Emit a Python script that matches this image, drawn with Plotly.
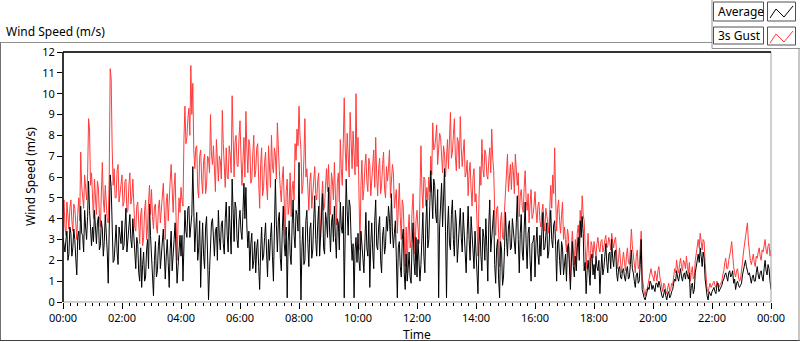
import pandas as pd
import plotly.graph_objects as go

# ---- data ----
# samples on the even 4-minute marks (00:00, 00:04, ...), one row per hour
gust_even = [
    4.4, 3.6, 4.8, 3.5, 4.9, 3.4, 4.5, 3.0, 5.0, 7.2, 5.2, 6.1, 4.9, 8.8, 5.6,
    4.6, 5.9, 4.2, 5.5, 3.6, 6.7, 4.3, 4.8, 3.8, 11.2, 7.4, 6.4, 5.0, 6.6, 5.2,
    6.1, 4.8, 5.9, 4.4, 6.2, 5.0, 4.3, 3.4, 4.8, 2.8, 4.5, 3.1, 4.9, 3.6, 5.6,
    5.4, 3.5, 4.7, 3.3, 4.9, 4.4, 5.7, 3.0, 5.2, 4.6, 6.6, 4.3, 6.2, 2.0, 5.0,
    5.5, 4.6, 9.4, 7.9, 9.3, 11.35, 10.5, 6.4, 7.5, 5.0, 7.3, 5.2, 7.1, 5.6, 6.9,
    9.0, 6.6, 6.2, 7.8, 5.8, 6.8, 9.2, 6.3, 7.4, 5.9, 7.1, 9.9, 6.0, 8.0, 6.5,
    8.7, 5.6, 7.9, 9.15, 6.2, 7.5, 5.9, 8.0, 6.3, 7.6, 4.5, 7.4, 5.5, 7.2, 4.9,
    6.4, 8.0, 6.2, 7.0, 8.6, 6.3, 4.8, 6.5, 3.2, 5.9, 4.6, 4.1, 5.8, 7.6, 8.3,
    9.4, 7.3, 5.6, 8.8, 6.4, 4.4, 6.2, 5.1, 6.5, 4.9, 6.2, 3.1, 5.8, 4.6, 6.4,
    6.6, 4.2, 5.8, 6.7, 3.7, 6.2, 7.8, 5.6, 9.8, 6.3, 7.2, 9.1, 6.4, 7.0, 10.0,
    7.9, 2.5, 6.8, 5.4, 7.1, 5.3, 6.6, 5.8, 7.3, 7.9, 5.1, 6.9, 5.6, 7.2, 5.0,
    5.8, 7.3, 5.6, 6.2, 5.0, 3.3, 5.7, 3.0, 4.6, 1.7, 1.4, 4.2, 3.0, 5.2, 2.3,
    4.4, 2.8, 7.5, 4.5, 5.9, 5.5, 6.0, 7.0, 8.6, 7.4, 8.5, 7.3, 7.9, 6.2, 7.1,
    7.0, 6.4, 9.1, 7.2, 8.8, 6.3, 7.7, 8.9, 6.5, 7.8, 6.2, 5.1, 6.7, 4.6, 6.4,
    5.2, 2.2, 6.5, 7.8, 6.0, 7.1, 5.9, 7.4, 8.3, 6.3, 3.2, 4.6, 1.7, 4.3, 3.0,
    5.5, 7.1, 6.0, 5.4, 6.3, 7.1, 5.6, 4.1, 5.4, 4.3, 6.3, 4.4, 3.8, 5.4, 4.2,
    5.3, 3.8, 4.8, 3.6, 4.7, 3.4, 4.2, 3.3, 5.6, 6.1, 7.4, 3.4, 4.9, 3.3, 4.8,
    3.6, 2.4, 3.2, 1.0, 3.4, 1.8, 2.0, 3.7, 4.4, 5.1, 3.9, 1.6, 3.3, 1.4, 2.7,
    2.9, 2.2, 3.1, 2.4, 3.0, 2.6, 3.2, 2.7, 2.9, 3.3, 2.6, 3.1, 1.6, 2.6, 1.4,
    2.4, 1.5, 2.6, 1.8, 3.5, 2.2, 1.4, 2.5, 1.7, 3.4, 0.7, 0.3, 0.6, 1.2, 1.6,
    1.2, 1.5, 1.0, 1.7, 0.9, 0.5, 0.8, 0.4, 0.9, 0.6, 0.8, 1.6, 2.0, 1.4, 2.1,
    1.5, 1.9, 2.2, 1.4, 1.0, 1.7, 1.2, 2.4, 3.0, 3.3, 2.5, 2.9, 0.9, 0.5, 0.9,
    0.8, 1.0, 0.7, 0.9, 0.8, 1.0, 1.5, 2.1, 1.6, 2.2, 2.9, 1.7, 1.2, 1.6, 1.0,
    1.4, 2.4, 3.1, 3.8, 2.2, 1.8, 2.3, 1.7, 2.1, 2.6, 2.0, 2.4, 3.0, 2.3, 2.8,
    2.5,
]

# samples on the odd 2-minute marks (00:02, 00:06, ...)
gust_odd = [
    4.9, 3.2, 4.1, 4.5, 3.9, 4.7, 3.8, 4.2, 3.9, 5.6, 4.5, 5.4, 6.0, 8.3, 6.2,
    4.0, 4.9, 5.8, 4.1, 5.2, 4.9, 5.6, 3.9, 6.0, 10.7, 5.6, 5.0, 6.3, 4.8, 5.8,
    4.6, 5.8, 4.3, 5.6, 4.7, 5.9, 3.6, 4.6, 3.3, 4.2, 2.7, 4.4, 3.0, 4.8, 4.2,
    4.1, 4.6, 3.6, 4.5, 3.8, 5.2, 4.4, 4.8, 3.9, 5.8, 4.9, 5.5, 4.0, 3.8, 4.3,
    4.9, 7.8, 7.6, 8.8, 8.0, 9.0, 7.3, 7.4, 5.4, 7.0, 5.9, 6.8, 5.2, 7.0, 6.2,
    7.1, 7.5, 5.3, 6.4, 7.0, 5.9, 7.6, 5.5, 6.0, 7.5, 6.2, 7.3, 7.7, 6.6, 7.9,
    7.0, 6.8, 6.0, 7.3, 7.8, 5.7, 7.1, 6.0, 7.4, 5.8, 6.6, 5.1, 6.7, 5.6, 7.5,
    5.5, 6.5, 7.4, 5.9, 7.0, 5.4, 5.9, 4.7, 5.3, 4.2, 6.2, 5.4, 4.9, 6.8, 7.5,
    8.0, 5.2, 6.9, 6.0, 5.5, 5.8, 4.5, 6.0, 5.2, 5.8, 4.4, 4.9, 4.4, 5.6, 5.3,
    5.3, 6.2, 4.9, 5.2, 5.7, 4.8, 6.4, 7.6, 7.3, 8.1, 6.0, 7.0, 8.2, 6.1, 6.5,
    5.2, 5.6, 4.9, 6.5, 5.8, 6.9, 5.1, 6.7, 5.5, 6.1, 6.4, 5.2, 6.6, 5.4, 6.5,
    6.4, 5.0, 6.6, 4.5, 5.4, 4.8, 4.1, 4.9, 3.2, 3.6, 3.4, 2.6, 4.4, 3.6, 3.9,
    3.6, 5.1, 5.4, 6.0, 4.6, 4.9, 5.3, 6.1, 7.3, 7.9, 6.6, 8.1, 7.0, 7.5, 6.0,
    7.8, 7.6, 6.9, 8.0, 7.0, 7.9, 6.4, 7.4, 7.2, 6.0, 6.8, 6.2, 5.4, 6.0, 4.8,
    3.9, 4.8, 5.6, 6.4, 7.3, 6.1, 6.8, 6.2, 6.9, 4.4, 4.5, 3.3, 3.9, 3.1, 4.4,
    6.4, 5.3, 6.6, 6.7, 5.2, 5.9, 6.2, 5.1, 4.6, 5.5, 4.9, 5.2, 4.7, 4.0, 4.6,
    4.4, 4.6, 3.9, 4.3, 3.9, 4.5, 3.8, 4.6, 4.5, 5.2, 5.0, 4.5, 3.9, 4.2, 3.0,
    3.0, 3.5, 2.1, 2.6, 2.5, 3.0, 3.3, 2.8, 3.6, 4.2, 2.7, 2.5, 2.2, 2.9, 2.1,
    2.5, 2.8, 2.6, 2.9, 2.4, 3.0, 2.6, 3.1, 2.5, 2.9, 3.0, 2.3, 2.1, 1.9, 2.0,
    1.9, 2.2, 1.9, 2.5, 2.7, 1.8, 2.2, 1.6, 2.6, 1.2, 0.5, 0.6, 0.9, 1.5, 1.3,
    1.0, 1.3, 1.5, 1.2, 0.6, 0.9, 0.5, 0.7, 0.5, 0.9, 1.2, 1.4, 1.6, 1.8, 1.7,
    2.0, 1.6, 1.7, 1.9, 1.4, 1.1, 2.0, 2.8, 2.6, 2.9, 3.0, 1.9, 0.6, 0.8, 0.7,
    0.9, 0.8, 1.0, 0.7, 0.9, 1.3, 1.9, 1.6, 2.0, 2.5, 2.2, 1.4, 1.5, 1.2, 1.1,
    1.9, 2.8, 3.4, 2.9, 2.0, 2.2, 1.9, 2.2, 2.4, 2.2, 2.5, 2.7, 2.5, 2.7, 2.2,
]

average_even = [
    3.1, 2.4, 3.4, 2.3, 3.3, 2.6, 3.0, 1.3, 3.4, 4.6, 3.2, 4.4, 3.0, 5.8, 3.5,
    3.6, 4.4, 2.8, 4.1, 2.7, 3.5, 2.9, 3.4, 0.9, 6.1, 3.2, 2.0, 3.7, 1.8, 3.1,
    3.9, 2.7, 4.5, 3.0, 4.2, 2.6, 3.2, 1.6, 2.8, 1.0, 0.7, 2.4, 1.2, 3.0, 4.7,
    2.3, 0.3, 2.9, 1.5, 3.2, 2.2, 3.5, 1.1, 3.0, 0.7, 3.4, 2.1, 3.8, 0.9, 2.6,
    2.2, 1.0, 4.4, 3.1, 4.6, 3.5, 6.5, 2.4, 4.3, 2.6, 0.7, 3.8, 1.6, 4.1, 0.1,
    2.8, 4.0, 2.2, 3.6, 4.4, 2.5, 3.9, 2.3, 4.8, 2.4, 3.6, 5.9, 2.9, 4.5, 2.6,
    4.4, 3.0, 5.7, 5.5, 2.6, 1.5, 3.3, 2.0, 1.4, 3.0, 0.6, 3.6, 2.2, 3.8, 1.2,
    2.0, 3.8, 1.0, 5.9, 2.4, 4.3, 1.5, 4.6, 2.2, 0.2, 3.9, 1.8, 4.9, 2.6, 4.2,
    6.7, 0.1, 3.6, 2.0, 4.4, 1.7, 3.8, 2.5, 5.1, 2.2, 4.6, 3.0, 5.2, 2.3, 3.9,
    5.5, 2.4, 4.2, 4.6, 2.1, 3.8, 4.8, 3.3, 0.2, 5.9, 3.2, 4.6, 2.0, 0.2, 3.1,
    3.3, 1.5, 2.9, 1.4, 4.3, 2.2, 0.7, 3.8, 1.6, 4.9, 2.5, 4.1, 1.4, 3.6, 2.7,
    3.4, 4.0, 5.2, 2.6, 3.9, 0.2, 2.9, 1.2, 3.5, 0.6, 1.0, 2.4, 0.9, 3.8, 1.3,
    1.2, 2.1, 1.8, 4.3, 1.4, 4.9, 3.0, 6.3, 4.0, 5.6, 3.8, 0.2, 4.5, 3.6, 6.4,
    0.2, 4.6, 2.5, 4.9, 2.2, 3.8, 2.9, 4.5, 2.4, 3.5, 1.4, 4.6, 2.0, 3.1, 1.6,
    2.2, 0.4, 3.6, 1.5, 3.1, 4.0, 1.0, 4.9, 3.2, 4.4, 0.9, 3.0, 0.2, 2.5, 1.2,
    4.3, 2.2, 3.9, 2.6, 3.5, 2.3, 5.1, 1.4, 4.2, 2.0, 4.8, 1.6, 3.6, 1.0, 2.9,
    1.2, 3.6, 1.8, 2.2, 4.3, 2.6, 3.8, 2.4, 4.4, 2.6, 3.9, 1.0, 3.0, 1.3, 2.6,
    1.9, 1.0, 2.8, 0.6, 2.9, 1.2, 1.5, 3.1, 3.9, 4.1, 1.5, 0.4, 2.0, 0.8, 2.3,
    1.8, 2.2, 1.5, 0.4, 2.3, 1.6, 2.8, 1.4, 2.4, 3.0, 1.7, 2.5, 1.0, 1.7, 1.1,
    1.6, 1.0, 1.7, 1.2, 2.5, 1.4, 0.7, 1.4, 1.0, 3.0, 0.3, 0.1, 0.4, 0.6, 0.9,
    0.8, 0.5, 0.9, 1.0, 0.4, 0.2, 0.6, 0.1, 0.5, 0.3, 0.6, 1.1, 1.5, 1.0, 1.6,
    1.0, 1.4, 1.5, 1.1, 0.2, 0.9, 0.6, 1.8, 2.3, 2.6, 1.7, 2.1, 0.6, 0.1, 0.4,
    0.5, 0.7, 0.4, 0.9, 0.6, 0.8, 1.1, 1.4, 1.0, 1.5, 1.3, 0.9, 0.6, 1.0, 0.7,
    0.9, 1.6, 2.0, 1.5, 1.4, 0.9, 1.3, 1.0, 1.7, 1.1, 1.5, 1.0, 2.0, 1.3, 1.6,
    0.6,
]

average_odd = [
    2.6, 3.0, 2.0, 3.6, 2.2, 3.5, 2.1, 3.1, 2.5, 3.3, 2.4, 3.6, 4.1, 4.4, 2.7,
    2.9, 3.5, 3.8, 2.5, 3.9, 2.2, 4.2, 2.4, 3.3, 5.5, 1.9, 3.3, 2.4, 3.6, 2.8,
    2.5, 3.8, 2.4, 3.9, 3.0, 4.0, 2.0, 3.1, 1.4, 2.6, 1.8, 1.0, 2.5, 1.6, 3.2,
    1.4, 2.0, 1.2, 2.7, 1.6, 3.1, 2.4, 2.2, 1.9, 2.5, 1.5, 3.0, 1.8, 1.7, 3.2,
    3.2, 3.0, 3.4, 4.5, 3.1, 4.2, 3.6, 3.5, 2.0, 3.9, 2.5, 2.2, 3.6, 2.3, 1.5,
    3.8, 2.6, 3.4, 2.0, 3.1, 3.7, 2.8, 4.0, 3.2, 4.6, 2.3, 4.1, 4.8, 3.0, 3.9,
    3.4, 4.3, 4.0, 3.6, 3.4, 2.8, 1.6, 2.9, 2.6, 1.7, 2.5, 2.0, 3.1, 2.4, 3.0,
    3.1, 2.2, 3.5, 3.7, 3.9, 2.1, 3.4, 2.8, 3.6, 2.9, 2.3, 3.7, 3.2, 4.4, 3.4,
    3.0, 2.6, 1.8, 3.9, 2.8, 3.5, 2.1, 4.0, 3.0, 3.7, 2.2, 3.9, 2.6, 4.3, 3.1,
    3.6, 3.8, 2.9, 3.1, 4.0, 2.5, 3.6, 4.6, 3.4, 4.4, 4.9, 3.0, 2.8, 2.5, 1.9,
    2.0, 3.4, 2.1, 3.3, 2.6, 3.9, 2.8, 2.4, 3.9, 2.7, 3.6, 2.0, 3.2, 2.3, 4.1,
    4.6, 2.8, 3.4, 3.3, 2.1, 2.6, 1.7, 3.0, 1.4, 2.3, 1.6, 1.2, 2.8, 1.9, 3.1,
    3.0, 1.0, 3.5, 2.2, 3.7, 2.6, 4.6, 5.2, 5.9, 4.2, 5.4, 3.6, 5.7, 5.0, 3.4,
    3.5, 2.8, 4.2, 3.0, 4.4, 1.9, 4.0, 3.1, 4.3, 2.6, 3.2, 3.0, 4.1, 2.3, 3.4,
    1.1, 2.7, 2.2, 3.5, 2.0, 2.6, 3.7, 2.4, 3.9, 1.8, 2.6, 1.1, 2.9, 0.8, 2.6,
    3.1, 3.6, 2.5, 4.0, 2.7, 3.8, 3.0, 3.3, 2.4, 3.5, 2.8, 3.3, 2.0, 2.8, 3.2,
    2.8, 2.3, 3.2, 3.4, 2.5, 3.2, 2.1, 3.5, 3.0, 3.7, 2.7, 2.9, 2.0, 2.9, 1.3,
    2.3, 2.6, 1.4, 1.9, 1.7, 2.2, 2.6, 2.0, 3.1, 3.3, 1.9, 1.5, 1.4, 2.1, 1.3,
    1.1, 1.7, 2.0, 1.5, 1.3, 2.2, 1.9, 2.3, 1.6, 2.1, 2.4, 1.4, 1.6, 1.2, 1.5,
    1.2, 1.5, 1.1, 1.8, 1.6, 1.0, 1.3, 0.9, 1.8, 0.6, 0.2, 0.3, 0.7, 1.0, 0.6,
    0.6, 0.9, 0.7, 0.8, 0.3, 0.5, 0.3, 0.4, 0.2, 0.5, 0.9, 1.0, 1.2, 1.3, 1.2,
    1.3, 1.1, 1.3, 1.4, 0.8, 0.4, 1.4, 2.1, 1.9, 2.2, 2.4, 1.1, 0.3, 0.5, 0.3,
    0.6, 0.5, 0.8, 0.5, 0.7, 1.0, 1.3, 1.2, 1.4, 1.2, 1.5, 1.1, 0.9, 0.8, 0.8,
    1.3, 1.9, 1.7, 1.3, 1.1, 1.2, 1.0, 1.4, 1.3, 1.4, 1.2, 1.6, 1.5, 1.8, 1.0,
]

tick_labels = ["00:00", "02:00", "04:00", "06:00", "08:00", "10:00", "12:00",
               "14:00", "16:00", "18:00", "20:00", "22:00", "00:00"]
y_ticks = list(range(0, 13))


def merge(even, odd):
    out = []
    for i, v in enumerate(even):
        out.append(v)
        if i < len(odd):
            out.append(odd[i])
    return out


gust = merge(gust_even, gust_odd)
average = merge(average_even, average_odd)

# ---- axes ----
t0 = pd.Timestamp("2024-01-01 00:00")
t_end = t0 + pd.Timedelta(hours=24)
times = pd.date_range(t0, periods=len(gust), freq="2min")
tick_vals = pd.date_range(t0, t_end, freq="2h")

W, H = 800, 342
ML, MR, MT, MB = 63, 29, 52, 40
PW, PH = W - ML - MR, H - MT - MB


def px(x):
    return (x - ML) / PW


def py(y):
    return (H - MB - y) / PH


FONT = "Noto Sans"

fig = go.Figure()
fig.add_trace(go.Scatter(x=times, y=gust, mode="lines", name="3s Gust",
                         line=dict(color="#ff3b3b", width=1)))
fig.add_trace(go.Scatter(x=times, y=average, mode="lines", name="Average",
                         line=dict(color="#000000", width=1)))

shapes = []
# plot frame
shapes.append(dict(type="rect", xref="paper", yref="paper", x0=0, x1=1, y0=0, y1=1,
                   line=dict(color="#a0a0a0", width=1)))
shapes.append(dict(type="line", xref="paper", yref="paper", x0=0, x1=1, y0=1, y1=1,
                   line=dict(color="#000000", width=1.5)))
shapes.append(dict(type="line", xref="paper", yref="paper", x0=0, x1=0, y0=0, y1=1,
                   line=dict(color="#000000", width=1.5)))


def seg(x0, y0, x1, y1, color, width=1):
    shapes.append(dict(type="line", xref="paper", yref="paper",
                       x0=px(x0), y0=py(y0), x1=px(x1), y1=py(y1),
                       line=dict(color=color, width=width)))

# outer panel frame
seg(0, 42.5, 712, 42.5, "#909090")
seg(0.5, 42.5, 0.5, 341, "#707070")
seg(0, 340.5, 800, 340.5, "#404040")
seg(799, 48.5, 799, 341, "#909090")
seg(712, 0, 712, 48.5, "#909090")
seg(712, 48.5, 800, 48.5, "#909090")


def box(x0, y0, x1, y1, color="#505050"):
    shapes.append(dict(type="rect", xref="paper", yref="paper",
                       x0=px(x0), y0=py(y1), x1=px(x1), y1=py(y0),
                       line=dict(color=color, width=1), fillcolor="white"))

# legend boxes
box(713.5, 2, 763.5, 21)
box(767.5, 2, 795.5, 21)
box(713.5, 27, 763.5, 44)
box(767.5, 27, 795.5, 45)


def zig(pts, color):
    path = "M " + " L ".join(f"{px(x)},{py(y)}" for x, y in pts)
    shapes.append(dict(type="path", xref="paper", yref="paper", path=path,
                       line=dict(color=color, width=1)))

zig([(770, 18), (776, 9), (784, 17), (793, 6)], "#000000")
zig([(770, 43), (776, 34), (784, 42), (793, 31)], "#ff3b3b")

annotations = [
    dict(text="Wind Speed (m/s)", x=px(4), y=py(31.5), xref="paper", yref="paper",
         xanchor="left", yanchor="middle", showarrow=False, font=dict(size=12)),
    dict(text="Wind Speed (m/s)", x=px(30), y=py(177), xref="paper", yref="paper",
         xanchor="center", yanchor="middle", textangle=-90, showarrow=False,
         font=dict(size=12)),
    dict(text="Time", x=0.5, y=py(334), xref="paper", yref="paper",
         xanchor="center", yanchor="middle", showarrow=False, font=dict(size=12)),
    dict(text="Average", x=px(716), y=py(11.5), xref="paper", yref="paper",
         xanchor="left", yanchor="middle", showarrow=False, font=dict(size=12)),
    dict(text="3s Gust", x=px(716), y=py(35.5), xref="paper", yref="paper",
         xanchor="left", yanchor="middle", showarrow=False, font=dict(size=12)),
]

fig.update_layout(
    width=W, height=H,
    margin=dict(l=ML, r=MR, t=MT, b=MB, pad=0),
    paper_bgcolor="white", plot_bgcolor="white",
    showlegend=False,
    font=dict(family=FONT, size=11, color="#000000"),
    shapes=shapes,
    annotations=annotations,
    xaxis=dict(range=[t0, t_end], tickvals=tick_vals, ticktext=tick_labels,
               ticks="outside", ticklen=6, tickcolor="#000000", tickwidth=1,
               showgrid=False, zeroline=False, showline=False,
               tickfont=dict(size=11),
               minor=dict(ticks="outside", ticklen=3, tickcolor="#000000",
                          dtick=15 * 60 * 1000, tick0=t0, showgrid=False)),
    yaxis=dict(range=[0, 12], tickvals=y_ticks, ticks="outside", ticklen=5,
               tickcolor="#000000", tickwidth=1, showgrid=False, zeroline=False,
               showline=False, tickfont=dict(size=11)),
)

fig.write_html(
    "out.html",
    config={"displayModeBar": False},
    post_script="document.body.style.margin='0';document.body.style.padding='0';"
                "document.documentElement.style.overflow='hidden';",
)
